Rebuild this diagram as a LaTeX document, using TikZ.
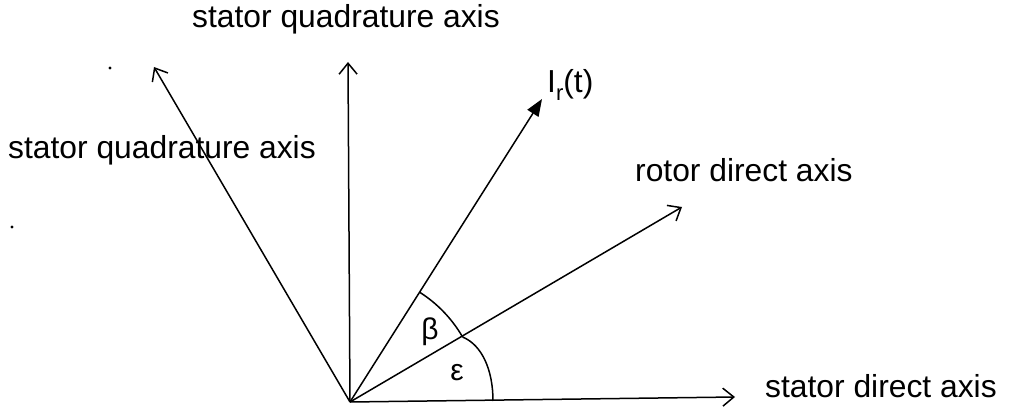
\documentclass[tikz,border=0pt]{standalone}
\usepackage{fontspec}
\setmainfont{Liberation Sans}
\usetikzlibrary{arrows.meta}
\begin{document}
\begin{tikzpicture}[x=1pt,y=-1pt,
  axisline/.style={line width=1.5pt,-{Straight Barb[length=11pt,width=18pt,line width=1.5pt]}},
  curline/.style={line width=1.5pt,-{Triangle[length=17pt,width=13pt]}},
  anglearc/.style={line width=1.5pt},
  lbl/.style={font=\fontsize{31.8}{37}\selectfont, inner sep=0pt, anchor=base west},
  sym/.style={font=\fontsize{30}{36}\selectfont, inner sep=0pt, anchor=center},
  speck/.style={fill=black}]
\path[use as bounding box] (0,0) rectangle (1012,417);
\coordinate (O) at (350,402);
\coordinate (sd) at (735,397);
\coordinate (sq) at (348,62);
\coordinate (sqb) at (154,67);
\coordinate (rd) at (682,207);
\coordinate (ir) at (542,99);
\draw[axisline] (O) -- (sd);
\draw[axisline] (O) -- (sq);
\draw[axisline] (O) -- (sqb);
\draw[axisline] (O) -- (rd);
\draw[curline] (O) -- (ir);
% angle arcs
\draw[anglearc] (O) ++(-57.6:130) coordinate (b1) arc[start angle=-57.6, end angle=-30, radius=130] coordinate (b2);
\coordinate (e2) at (493,401);
\draw[anglearc] (b2) .. controls (482,345) and (493,370) .. (e2);
% labels
\node[lbl] (tq) at (192,28) {stator quadrature axis};
\node[lbl] (lq) at (8,159) {stator quadrature axis};
\node[lbl] (rl) at (635,182) {rotor direct axis};
\node[lbl] (dl) at (765,397) {stator direct axis};
\node[lbl] (il) at (547,93) {I\raisebox{-8pt}{\fontsize{22}{22}\selectfont r}(t)};
\node[sym] (beta) at (430,332) {β};
\node[sym] (eps) at (457,373) {ε};
% specks
\fill[speck] (110,68) circle (1.6);
\fill[speck] (12,227) circle (1.6);
\end{tikzpicture}
\end{document}
